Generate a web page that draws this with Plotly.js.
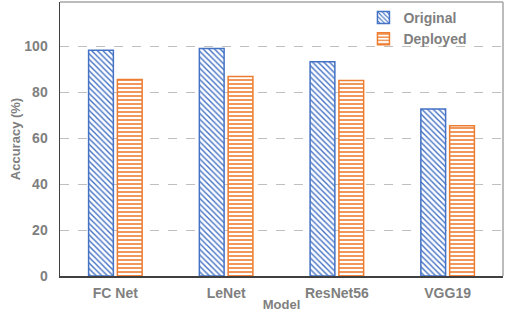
<!DOCTYPE html>
<html>
<head>
<meta charset="utf-8">
<script src="https://cdn.plot.ly/plotly-3.0.1.min.js"></script>
<style>html,body{margin:0;padding:0;background:#fff;}#chart{width:506px;height:312px;}</style>
</head>
<body>
<div id="chart"></div>
<script>
const categories = ["FC Net", "LeNet", "ResNet56", "VGG19"];
const originalValues = [98.2, 99.0, 93.2, 72.6];
const deployedValues = [85.5, 86.8, 85.1, 65.4];
const yTickValues = [0, 20, 40, 60, 80, 100];

const fontFam = '"Liberation Sans", Arial, sans-serif';
const gray = '#7f7f7f';

const traces = [
  {
    type: 'bar', name: 'Original', x: categories, y: originalValues,
    marker: {
      color: 'white',
      line: {color: '#4472C4', width: 1.5},
      pattern: {shape: '\\', fgcolor: '#4472C4', bgcolor: 'white', size: 4, solidity: 0.35}
    }
  },
  {
    type: 'bar', name: 'Deployed', x: categories, y: deployedValues,
    marker: {
      color: 'white',
      line: {color: '#ED7D31', width: 1.5},
      pattern: {shape: '-', fgcolor: '#ED7D31', bgcolor: 'white', size: 4, solidity: 0.4}
    }
  }
];

const layout = {
  width: 506, height: 312,
  margin: {l: 60, r: 3, t: 2, b: 36},
  paper_bgcolor: 'white', plot_bgcolor: 'white',
  barmode: 'group', bargap: 0.48, bargroupgap: 0.14,
  font: {family: fontFam, color: gray, size: 13, weight: 'bold'},
  showlegend: true,
  legend: {
    x: 0.685, y: 1.0, xanchor: 'left', yanchor: 'top',
    bgcolor: 'rgba(0,0,0,0)', font: {size: 14, color: gray, weight: 'bold'},
    itemwidth: 30, tracegroupgap: 0
  },
  xaxis: {
    showline: true, linecolor: '#404040', linewidth: 1.5,
    ticks: '', tickfont: {size: 14, weight: 'bold', color: gray},
    ticklabelstandoff: 4,
    title: {text: 'Model', font: {size: 13, weight: 'bold', color: gray}, standoff: 8},
    automargin: false
  },
  yaxis: {
    range: [0, 119.2], tickvals: yTickValues, ticks: '',
    showline: true, linecolor: '#404040', linewidth: 1.5,
    showgrid: true, gridcolor: '#bfbfbf', griddash: 'dash', gridwidth: 1,
    zeroline: false,
    tickfont: {size: 14, weight: 'bold', color: gray},
    ticklabelstandoff: 8,
    title: {text: 'Accuracy (%)', font: {size: 13, weight: 'bold', color: gray}, standoff: 1},
    automargin: false
  },
  shapes: [
    {type: 'line', xref: 'paper', yref: 'paper', x0: 0, x1: 1, y0: 1, y1: 1, line: {color: '#a6a6a6', width: 1.5}},
    {type: 'line', xref: 'paper', yref: 'paper', x0: 1, x1: 1, y0: 0, y1: 1, line: {color: '#a6a6a6', width: 1.5}}
  ]
};

Plotly.newPlot('chart', traces, layout, {displayModeBar: false, staticPlot: true});
</script>
</body>
</html>
